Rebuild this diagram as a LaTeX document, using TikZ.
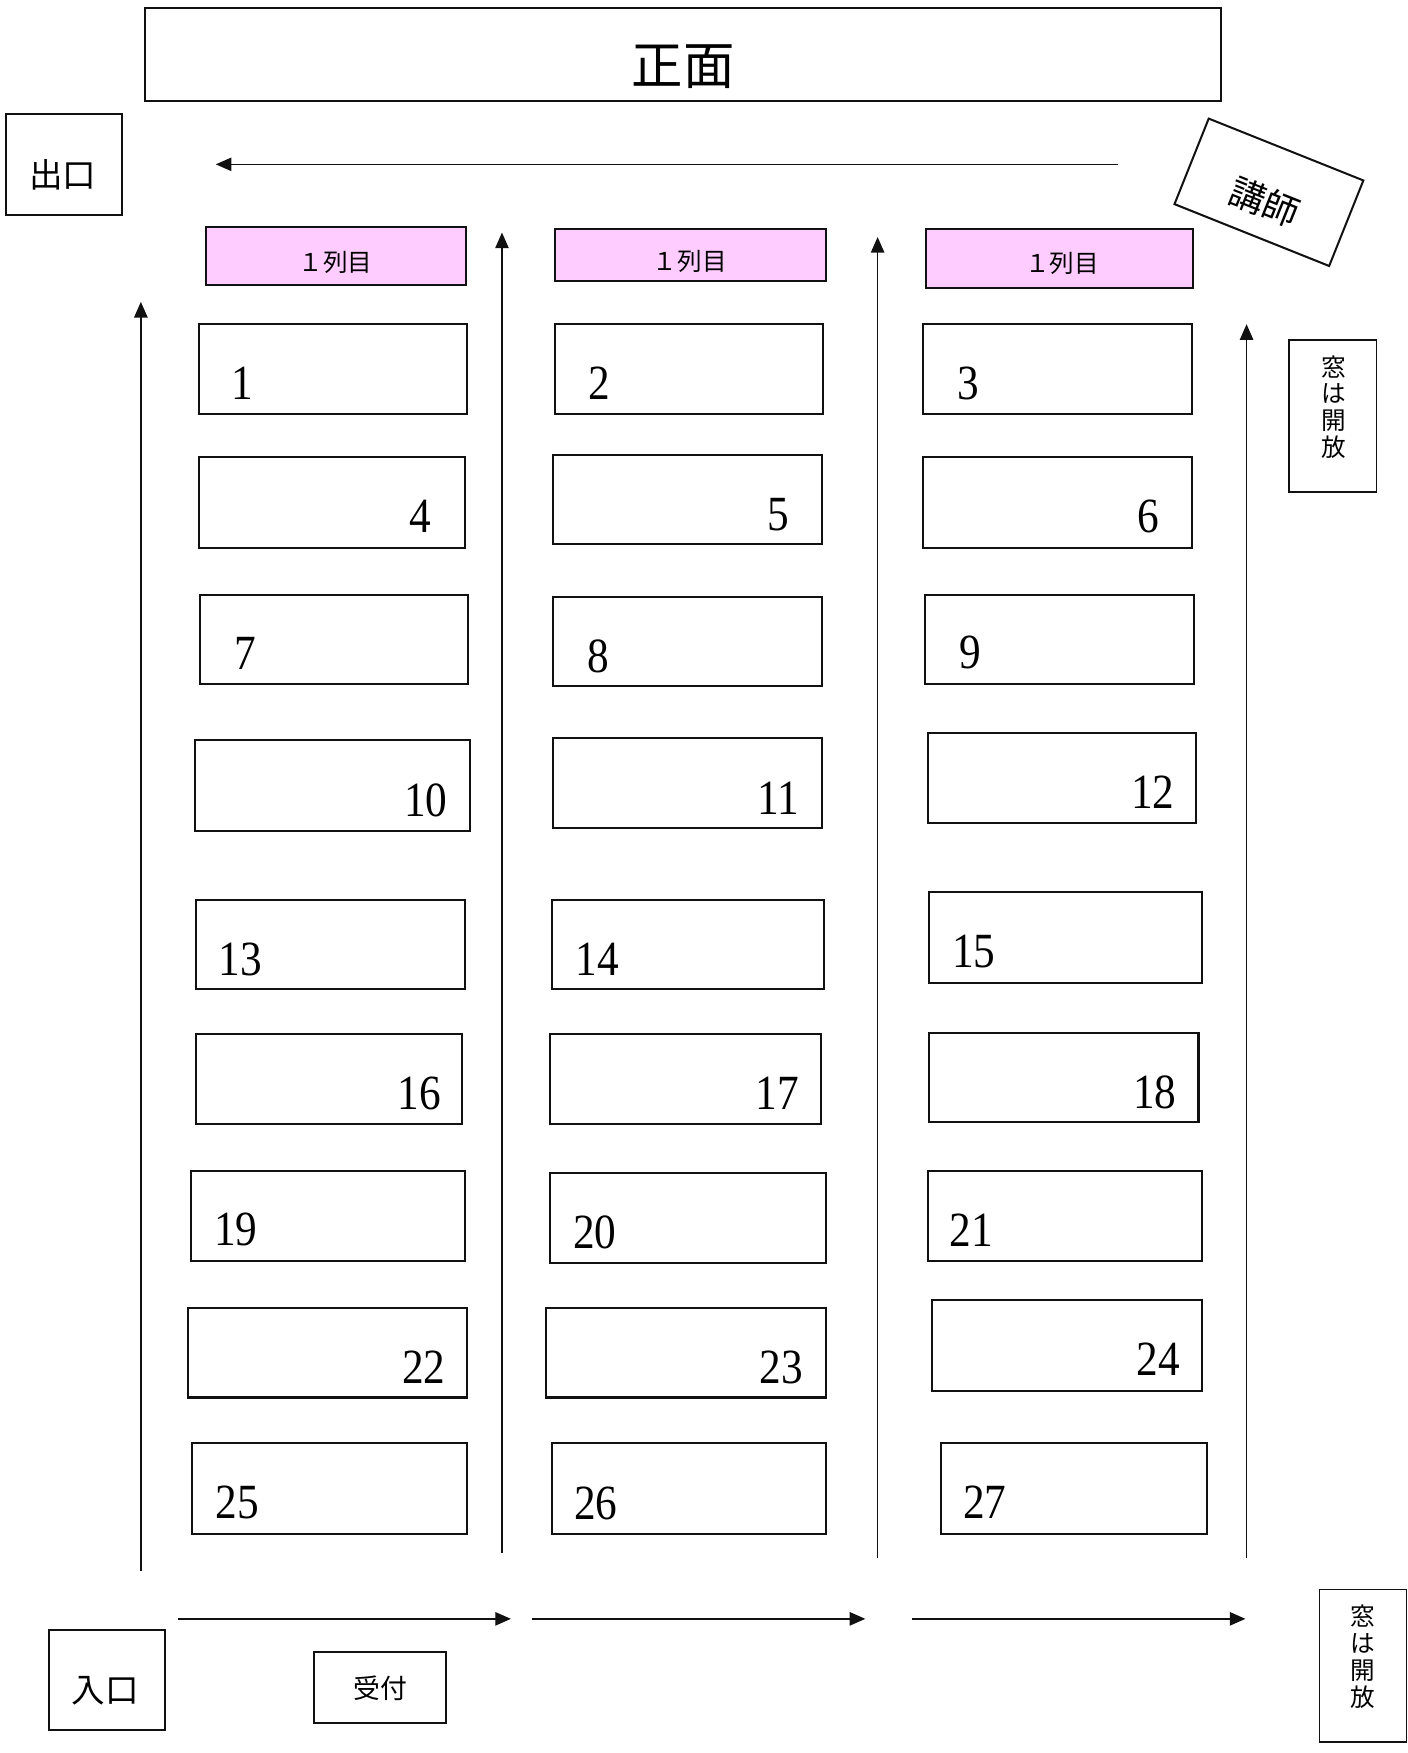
\documentclass[tikz,border=0pt]{standalone}
\usepackage{fontspec}
\setmainfont{Liberation Serif}
\newfontfamily\jpfont{Noto Sans CJK JP}
\newfontfamily\numfont[FakeStretch=0.88]{Liberation Serif}
\usetikzlibrary{arrows.meta}
\definecolor{RowPink}{HTML}{FFCCFF}
\definecolor{PlanInk}{HTML}{111111}

\begin{document}
\begin{tikzpicture}[x=0.5pt,y=-0.5pt,>={Triangle[length=7pt,width=6pt]},
  planbox/.style={draw=PlanInk,line width=0.9pt},
  rowbox/.style={draw=PlanInk,line width=0.9pt,fill=RowPink},
  flow/.style={->,PlanInk,line width=0.6pt},
  seatnum/.style={inner sep=0pt,font=\numfont\fontsize{22}{22}\selectfont},
  jptext/.style={inner sep=0pt,align=center,font=\jpfont\fontsize{#1}{#1}\selectfont}]
  \useasboundingbox (0,0) rectangle (1259,1568);
  % front, exit, lecturer
  \draw[planbox] (130,7) rectangle (1092,90);
  \node[jptext=23] (front) at (611,60) {正面};
  \draw[planbox] (5,102) rectangle (109,192);
  \node[jptext=15] (exit) at (56,156) {出口};
  \node[planbox,rotate=-21.8,minimum width=74.5pt,minimum height=41.2pt]
    (lecturer) at (1135,172) {};
  \node[jptext=16,rotate=-21.8] (lecturer-t) at (1131,181) {講師};
  % row headers
  \foreach \r/\xa/\ya/\xb/\yb/\tx/\ty in {1/184/203/417/255/300/235,
      2/496/205/739/251/617/234, 3/828/205/1067/258/950/236}{
    \draw[rowbox] (\xa,\ya) rectangle (\xb,\yb);
    \node[jptext=11] (row\r) at (\tx,\ty) {１列目};
  }
  % seats
  \foreach \n/\xa/\ya/\xb/\yb/\lx/\ly in {
      1/178/290/418/370/217/343, 2/496/290/736/370/536/343, 3/826/290/1066/370/866/343,
      4/178/409/416/490/376/462, 5/495/407/735/487/696/460, 6/826/409/1066/490/1027/462,
      7/179/532/419/612/219/584, 8/495/534/735/614/535/587, 9/827/532/1068/612/868/584,
      10/174/662/420/743/381/716, 11/495/660/735/741/696/714, 12/830/656/1070/736/1031/709,
      13/175/805/416/885/215/858, 14/494/805/737/885/534/858, 15/831/798/1075/879/871/851,
      16/175/925/413/1005/375/978, 17/492/925/734/1005/695/978, 18/831/924/1072/1004/1033/977,
      19/171/1047/416/1128/211/1100, 20/492/1049/739/1130/532/1102, 21/830/1047/1075/1128/869/1100,
      22/168/1170/418/1250/379/1223, 23/488/1170/739/1250/699/1223, 24/834/1163/1075/1244/1036/1216,
      25/172/1291/418/1372/212/1344, 26/494/1291/739/1372/533/1345, 27/842/1291/1080/1372/881/1344}{
    \draw[planbox] (\xa,\ya) rectangle (\xb,\yb);
    \node[seatnum] (seat\n) at (\lx,\ly) {\n};
  }
  % walking route
  \coordinate (front-s) at (1000,147);
  \coordinate (front-e) at (193,147);
  \draw[flow] (front-s) -- (front-e);
  \foreach \i/\x/\yb/\yt in {1/126/1405/270, 2/449/1389/208, 3/785/1394/212, 4/1115/1394/290}{
    \coordinate (aisle\i-s) at (\x,\yb);
    \coordinate (aisle\i-e) at (\x,\yt);
    \draw[flow] (aisle\i-s) -- (aisle\i-e);
  }
  \foreach \i/\xa/\xb in {1/159/457, 2/476/774, 3/816/1114}{
    \coordinate (back\i-s) at (\xa,1448);
    \coordinate (back\i-e) at (\xb,1448);
    \draw[flow] (back\i-s) -- (back\i-e);
  }
  % windows, entrance, reception
  \draw[planbox,line width=0.6pt] (1153,304) rectangle (1231,440);
  \node[jptext=11,font=\jpfont\fontsize{11}{12}\selectfont] (window1) at (1193,364) {窓\\は\\開\\放};
  \draw[planbox,line width=0.6pt] (1180,1422) rectangle (1258,1558);
  \node[jptext=11,font=\jpfont\fontsize{11}{12}\selectfont] (window2) at (1219,1482) {窓\\は\\開\\放};
  \draw[planbox] (44,1458) rectangle (148,1547);
  \node[jptext=15] (entrance) at (94,1512) {入口};
  \draw[planbox] (281,1478) rectangle (399,1541);
  \node[jptext=12] (reception) at (340,1510) {受付};
\end{tikzpicture}
\end{document}
